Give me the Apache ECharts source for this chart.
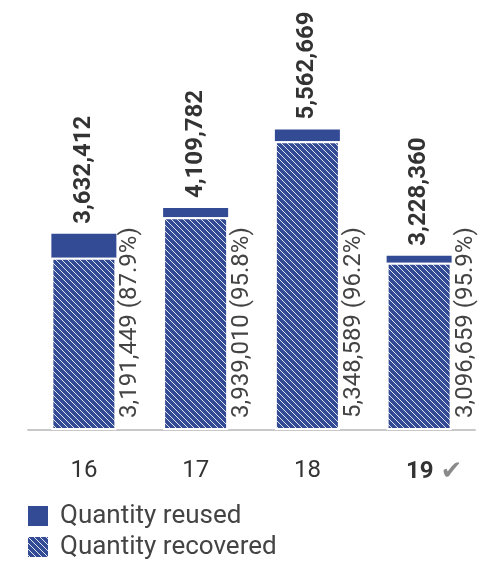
<!DOCTYPE html>
<html>
<head>
<meta charset="utf-8">
<script src="https://cdn.jsdelivr.net/npm/echarts@6/dist/echarts.min.js"></script>
<style>
html,body{margin:0;padding:0;background:#fff;}
#chart{width:488px;height:562px;}
</style>
</head>
<body>
<div id="chart"></div>
<script>
var categories = ['16', '17', '18', '19'];
var recovered = [3191449, 3939010, 5348589, 3096659];
var reused = [440963, 170772, 214080, 131701];
var totals = [3632412, 4109782, 5562669, 3228360];
var recoveredPct = ['87.9', '95.8', '96.2', '95.9'];

var BLUE = '#334a94';
function makeHatch() {
  var c = document.createElement('canvas');
  c.width = 6; c.height = 6;
  var g = c.getContext('2d');
  g.fillStyle = BLUE;
  g.fillRect(0, 0, 6, 6);
  g.strokeStyle = 'rgba(255,255,255,0.85)';
  g.lineWidth = 1;
  g.beginPath();
  g.moveTo(-1, -1); g.lineTo(7, 7);
  g.moveTo(5, -1); g.lineTo(7, 1);
  g.moveTo(-1, 5); g.lineTo(1, 7);
  g.stroke();
  return c;
}
var hatch = { image: makeHatch(), repeat: 'repeat' };

function fmt(n) { return n.toLocaleString('en-US'); }

var FONT = 'Roboto';
var chart = echarts.init(document.getElementById('chart'), null, { renderer: 'canvas' });
chart.setOption({
  animation: false,
  textStyle: { fontFamily: FONT },
  grid: { left: 28, right: 13, top: 106, bottom: 132, containLabel: false },
  legend: {
    orient: 'vertical',
    left: 28,
    top: 503,
    padding: 0,
    itemWidth: 20,
    itemHeight: 20,
    itemGap: 5,
    textStyle: { fontSize: 26, color: '#444', fontFamily: FONT, padding: [0, 0, 0, 7] },
    data: [
      { name: 'Quantity reused', icon: 'rect' },
      { name: 'Quantity recovered', icon: 'rect', itemStyle: { borderWidth: 0 } }
    ]
  },
  xAxis: {
    type: 'category',
    data: categories,
    axisLine: { show: true, lineStyle: { color: '#c8c8c8', width: 2 } },
    axisTick: { show: false },
    axisLabel: {
      interval: 0,
      margin: 29,
      fontSize: 24,
      color: '#333',
      fontFamily: FONT,
      formatter: function (v, i) {
        if (i === categories.length - 1) return '{sp|}{b|' + v + '}{g|}{c|\u2714}';
        return v;
      },
      rich: {
        sp: { width: 30 },
        b: { fontWeight: 'bold', fontSize: 24, color: '#333', fontFamily: FONT },
        g: { width: 7 },
        c: { fontSize: 26, color: '#8a8a8a', fontFamily: 'DejaVu Sans' }
      }
    }
  },
  yAxis: {
    type: 'value',
    min: 0,
    max: 6000000,
    show: false,
    splitLine: { show: false }
  },
  series: [
    {
      name: 'Quantity recovered',
      type: 'bar',
      stack: 'q',
      barWidth: 65,
      z: 3,
      data: recovered,
      itemStyle: { color: hatch, borderColor: '#ffffff', borderWidth: 2 },
      label: {
        show: true,
        position: ['100%', '100%'],
        rotate: 90,
        align: 'left',
        verticalAlign: 'top',
        offset: [12, 2],
        fontSize: 24,
        color: '#444',
        fontFamily: FONT,
        formatter: function (p) { return fmt(recovered[p.dataIndex]) + ' (' + recoveredPct[p.dataIndex] + '%)'; }
      }
    },
    {
      name: 'Quantity reused',
      type: 'bar',
      stack: 'q',
      barWidth: 65,
      z: 2,
      data: reused,
      itemStyle: { color: BLUE },
      label: {
        show: true,
        position: 'top',
        distance: 10,
        rotate: 90,
        align: 'left',
        verticalAlign: 'middle',
        fontSize: 24,
        fontWeight: 'bold',
        color: '#333',
        fontFamily: FONT,
        formatter: function (p) { return fmt(totals[p.dataIndex]); }
      }
    }
  ]
});
</script>
</body>
</html>
